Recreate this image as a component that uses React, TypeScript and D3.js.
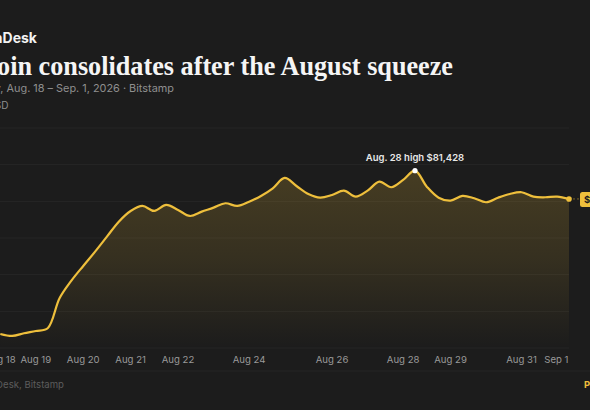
import React from "react";
import * as d3 from "d3";

const prices = [65840,65650,65907,66127,66384,69248,70928,72331,73696,75128,76560,77581,78058,77581,78153,77676,77103,77514,77896,78316,78058,78468,79012,79747,80731,79967,79203,78850,79108,79518,78946,79518,80377,79843,80540,81428,79900,78850,78564,79012,78793,78411,78850,79203,79366,78946,78888,78946,78726];
const tickIndex = [0,3,7,11,15,21,28,34,38,44,47];
const tickLabels = ["Aug 18","Aug 19","Aug 20","Aug 21","Aug 22","Aug 24","Aug 26","Aug 28","Aug 29","Aug 31","Sep 1"];
const gridValues = [85500,82000,78500,75000,71500,68000,64500];
const highIndex = 35;
const highLabel = "Aug. 28 high $81,428";
const lastLabel = "$78,726";

const BG = "#1c1c1c";
const GOLD = "#eebf3c";
const SANS = "Inter, 'Noto Sans', sans-serif";

export default function App() {
  const x = d3.scaleLinear().domain([0, 48]).range([0.3, 569]);
  const y = d3.scaleLinear().domain([64500, 85500]).range([348, 128]);
  const idx = prices.map((_, i) => i);
  const line = d3.line<number>().x(i => x(i)).y(i => y(prices[i])).curve(d3.curveCatmullRom.alpha(0.5));
  const area = d3.area<number>().x(i => x(i)).y0(y(64500)).y1(i => y(prices[i])).curve(d3.curveCatmullRom.alpha(0.5));
  const last = prices.length - 1;
  return (
    <svg width={590} height={410} style={{ position: "absolute", left: 0, top: 0, background: BG }}>
      <defs>
        <linearGradient id="fillGold" x1="0" x2="0" y1={y(81428)} y2={y(64500)} gradientUnits="userSpaceOnUse">
          <stop offset="0" stopColor={GOLD} stopOpacity={0.2} />
          <stop offset="0.5" stopColor={GOLD} stopOpacity={0.12} />
          <stop offset="1" stopColor={GOLD} stopOpacity={0} />
        </linearGradient>
      </defs>
      <text x={37} y={43} textAnchor="end" fontFamily={SANS} fontWeight={700} fontSize={14} fill="#f2f2f2">CoinDesk</text>
      <text x={453} y={74.5} textAnchor="end" textLength={501} lengthAdjust="spacingAndGlyphs" fontFamily="'Liberation Serif', serif" fontWeight={700} fontSize={28} fill="#f5f5f5">Bitcoin consolidates after the August squeeze</text>
      <text x={174} y={92} textAnchor="end" fontFamily={SANS} fontSize={10.9} fill="#8f8f8f">Hourly, Aug. 18 – Sep. 1, 2026 · Bitstamp</text>
      <text x={8.5} y={109} textAnchor="end" fontFamily={SANS} fontSize={10} fill="#8f8f8f">BTC/USD</text>

      {gridValues.map(v => (
        <line key={v} x1={0} x2={569} y1={y(v)} y2={y(v)} stroke="#ffffff" strokeOpacity={0.045} />
      ))}
      <path d={area(idx) ?? ""} fill="url(#fillGold)" />
      <path d={line(idx) ?? ""} fill="none" stroke={GOLD} strokeWidth={2.2} strokeLinejoin="round" />
      <circle cx={x(highIndex)} cy={y(prices[highIndex])} r={2.6} fill="#ffffff" />
      <text x={x(highIndex)} y={161} textAnchor="middle" fontFamily={SANS} fontWeight={600} fontSize={9.5} fill="#e8e8e8">{highLabel}</text>

      <circle cx={x(last)} cy={y(prices[last])} r={2.8} fill={GOLD} />
      <line x1={x(last)} x2={580} y1={y(prices[last])} y2={y(prices[last])} stroke={GOLD} strokeOpacity={0.45} strokeWidth={1} strokeDasharray="2 2" />
      <rect x={580} y={192} width={40} height={15} rx={2.5} fill={GOLD} />
      <text x={584} y={203} fontFamily={SANS} fontWeight={700} fontSize={9.5} fill="#1c1c1c">{lastLabel}</text>

      {tickIndex.map((t, i) => (
        <text key={t} x={i === tickIndex.length - 1 ? 568.5 : x(t)} y={363} textAnchor={i === tickIndex.length - 1 ? "end" : "middle"} fontFamily={SANS} fontSize={9.6} fill="#999999">{tickLabels[i]}</text>
      ))}
      <line x1={0} x2={590} y1={371} y2={371} stroke="#ffffff" strokeOpacity={0.04} />
      <text x={64} y={388} textAnchor="end" fontFamily={SANS} fontSize={9.6} fill="#5c5c5c">Source: CoinDesk, Bitstamp</text>
      <text x={584} y={388} fontFamily={SANS} fontWeight={700} fontSize={9.5} fill={GOLD}>Premium</text>
    </svg>
  );
}
